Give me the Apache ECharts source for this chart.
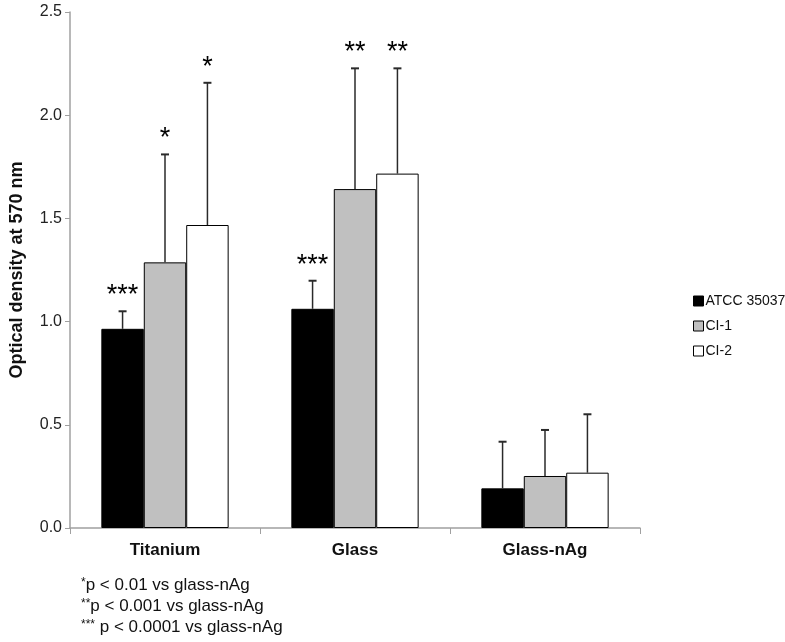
<!DOCTYPE html>
<html>
<head>
<meta charset="utf-8">
<script src="https://cdn.jsdelivr.net/npm/echarts@6/dist/echarts.min.js"></script>
<style>
html,body{margin:0;padding:0;background:#fff;}
#chart{width:785px;height:642px;}
</style>
</head>
<body>
<div id="chart"></div>
<script>
const categories = ['Titanium', 'Glass', 'Glass-nAg'];
const seriesNames = ['ATCC 35037', 'CI-1', 'CI-2'];
const atccValues = [0.965, 1.062, 0.192];
const ci1Values = [1.287, 1.642, 0.252];
const ci2Values = [1.468, 1.717, 0.268];
const atccErrors = [0.085, 0.136, 0.226];
const ci1Errors = [0.523, 0.585, 0.223];
const ci2Errors = [0.689, 0.510, 0.283];
const atccStars = ['***', '***', ''];
const ci1Stars = ['*', '**', ''];
const ci2Stars = ['*', '**', ''];
const yTicks = [0, 0.5, 1.0, 1.5, 2.0, 2.5];
const footnotes = ['*p < 0.01 vs glass-nAg', '**p < 0.001 vs glass-nAg', '*** p < 0.0001 vs glass-nAg'];

const values = [atccValues, ci1Values, ci2Values];
const errors = [atccErrors, ci1Errors, ci2Errors];
const stars = [atccStars, ci1Stars, ci2Stars];
const colors = ['#000000', '#c0c0c0', '#ffffff'];
const GAP = 0.33;
const FONT = 'Liberation Sans, Arial, sans-serif';

const chart = echarts.init(document.getElementById('chart'));

const series = [];
seriesNames.forEach((name, i) => {
  series.push({
    name: name,
    type: 'bar',
    data: values[i],
    barGap: '0%',
    barCategoryGap: (GAP * 100) + '%',
    itemStyle: { color: colors[i], borderColor: '#000', borderWidth: 1 },
    emphasis: { disabled: true },
    z: 2
  });
});
seriesNames.forEach((name, i) => {
  series.push({
    type: 'custom',
    z: 3,
    silent: true,
    data: categories.map((c, j) => [j, values[i][j], values[i][j] + errors[i][j]]),
    encode: { x: 0, y: 2 },
    renderItem: function (params, api) {
      const idx = api.value(0);
      const base = api.coord([idx, api.value(1)]);
      const top = api.coord([idx, api.value(2)]);
      const w = api.size([1, 0])[0];
      const barW = w * (1 - GAP) / 3;
      const x = base[0] + (i - 1) * barW;
      const star = stars[i][params.dataIndex];
      const children = [
        { type: 'line', shape: { x1: x, y1: base[1], x2: x, y2: top[1] }, style: { stroke: '#2a2a2a', lineWidth: 1.5 } },
        { type: 'line', shape: { x1: x - 4, y1: top[1], x2: x + 4, y2: top[1] }, style: { stroke: '#2a2a2a', lineWidth: 2 } }
      ];
      if (star) {
        children.push({
          type: 'text',
          style: { text: star, x: x, y: top[1] - 2, align: 'center', verticalAlign: 'bottom', font: '27px ' + FONT, fill: '#000' }
        });
      }
      return { type: 'group', children: children };
    }
  });
});

chart.setOption({
  animation: false,
  backgroundColor: '#fff',
  grid: { left: 66, right: 145, top: 12, bottom: 114, containLabel: false },
  legend: {
    data: seriesNames.map((n, i) => ({ name: n, itemStyle: { color: colors[i], borderColor: '#000', borderWidth: 1 } })),
    orient: 'vertical',
    left: 688,
    top: 289,
    itemWidth: 10,
    itemHeight: 10,
    itemGap: 11,
    icon: 'rect',
    textStyle: { fontFamily: FONT, fontSize: 14, color: '#111', padding: [0, 0, 0, -3] },
    selectedMode: false
  },
  xAxis: {
    type: 'category',
    data: categories,
    axisLine: { lineStyle: { color: '#a0a0a0', width: 1.5 } },
    axisTick: { show: true, alignWithLabel: false, length: 6, lineStyle: { color: '#a0a0a0' } },
    axisLabel: { fontFamily: FONT, fontSize: 17, fontWeight: 'bold', color: '#111', margin: 14 },
    splitLine: { show: false }
  },
  yAxis: {
    type: 'value',
    min: 0,
    max: 2.5,
    interval: 0.5,
    name: 'Optical density at 570 nm',
    nameLocation: 'middle',
    nameGap: 44,
    nameTextStyle: { fontFamily: FONT, fontSize: 18, fontWeight: 'bold', color: '#111' },
    axisLine: { show: true, lineStyle: { color: '#a0a0a0', width: 1.5 } },
    axisTick: { show: true, inside: false, length: 5, lineStyle: { color: '#a0a0a0' } },
    axisLabel: {
      fontFamily: FONT, fontSize: 16, color: '#222', margin: 8,
      formatter: v => (yTicks.indexOf(v) >= 0 ? v.toFixed(1) : '')
    },
    splitLine: { show: false }
  },
  graphic: footnotes.map((t, k) => {
    const m = t.match(/^(\*+)(.*)$/);
    return {
      type: 'text',
      left: 81,
      top: 577 + k * 21,
      style: {
        text: '{s|' + m[1] + '}{n|' + m[2] + '}',
        rich: {
          s: { fontFamily: FONT, fontSize: 12, verticalAlign: 'top', fill: '#111', padding: [0, 0, 5, 0] },
          n: { fontFamily: FONT, fontSize: 17, fill: '#111' }
        }
      }
    };
  }),
  series: series
});
</script>
</body>
</html>
